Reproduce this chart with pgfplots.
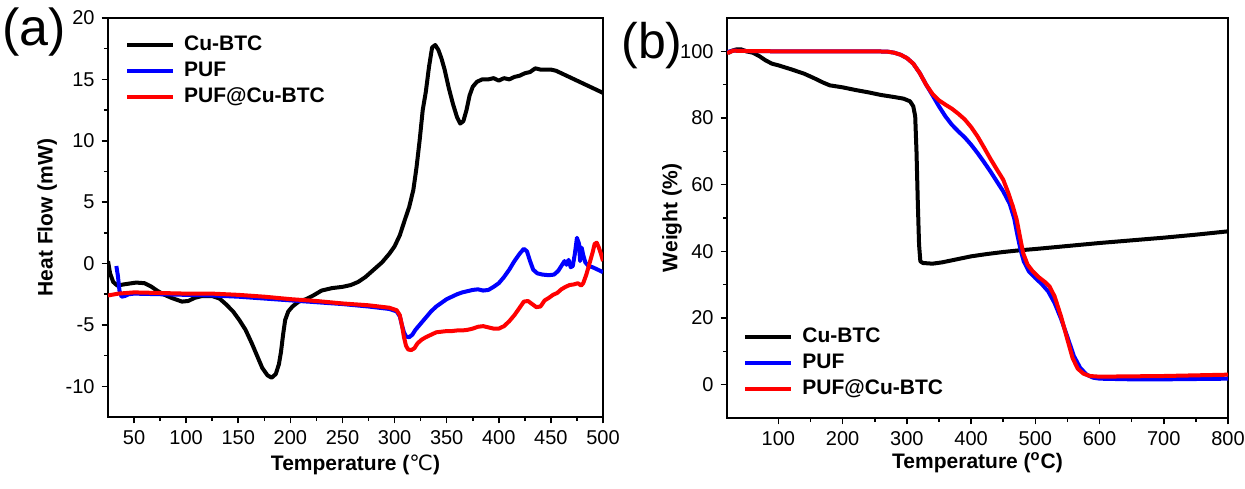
\documentclass[border=0pt]{standalone}
\usepackage{pgfplots}
\pgfplotsset{compat=1.18}
\usepackage{fontspec}
\setmainfont{Liberation Sans}
\newfontfamily\dejavu{DejaVu Sans}
\begin{document}
\begin{tikzpicture}
\useasboundingbox (0pt,0pt) rectangle (622.5pt,244pt);
\pgfplotsset{
  myax/.style={
    scale only axis,
    axis line style={line width=0.8pt},
    tick align=outside, tick pos=left,
    major tick length=3.2pt, minor tick length=2pt,
    every tick/.style={black, line width=0.8pt},
    /pgf/number format/assume math mode=true,
    tick label style={font=\fontsize{10}{12}\selectfont},
    label style={font=\fontsize{10.5}{12}\selectfont\bfseries},
    legend style={draw=none, fill=none, font=\fontsize{10.5}{12}\selectfont\bfseries,
      inner sep=0pt, row sep=3.5pt,
      nodes={inner sep=0pt, text height=7.5pt, text depth=2pt},
      /tikz/every odd column/.append style={column sep=4.5pt}},
    legend cell align=left,
    legend image code/.code={\draw[##1] (0pt,0pt) -- (23pt,0pt);},
    every axis plot/.append style={line width=2pt, line join=round},
  }
}
\node at (17pt,228pt) {\fontsize{26}{28}\selectfont (a)};
\node at (326pt,221pt) {\fontsize{25}{27}\selectfont (b)};
\begin{axis}[myax, at={(54pt,35.5pt)}, anchor=south west,
  width=247.5pt, height=199.5pt,
  xmin=25, xmax=500, ymin=-12.5, ymax=20,
  xtick={50,100,...,500}, minor x tick num=1,
  ytick={-10,-5,...,20}, minor y tick num=1,
  xlabel={Temperature ({\dejavu\mdseries ℃})}, ylabel={Heat Flow (mW)},
  xlabel style={at={(axis description cs:0.5,-0.12)}, anchor=center},
  ylabel style={at={(axis description cs:-0.123,0.5)}, anchor=center},
  legend style={at={(axis description cs:0.034,0.957)}, anchor=north west}]
\addplot[black] coordinates {(25,0.2) (27,-0.8) (30,-1.5) (34,-1.8) (40,-1.7) (52,-1.55) (60,-1.6) (66,-1.85) (72,-2.2) (78,-2.5) (86,-2.8) (96,-3.1) (102,-3.05) (108,-2.8) (115,-2.65) (125,-2.65) (132,-2.85) (138,-3.3) (145,-3.9) (151,-4.6) (157,-5.4) (163,-6.5) (168,-7.5) (173,-8.5) (178,-9.1) (182,-9.3) (186,-9.0) (189,-8.2) (191,-7.2) (193,-5.8) (195,-4.6) (198,-3.9) (202,-3.5) (208,-3.1) (215,-2.9) (222,-2.6) (230,-2.2) (240,-2.0) (250,-1.9) (258,-1.75) (265,-1.5) (272,-1.1) (280,-0.5) (288,0.1) (295,0.8) (300,1.4) (305,2.3) (310,3.6) (314,4.6) (318,6.0) (321,7.8) (324,10.0) (327,12.5) (330,14.0) (333,16.0) (336,17.6) (339,17.8) (342,17.4) (345,16.7) (348,15.8) (352,14.3) (356,13.0) (360,11.9) (363,11.4) (366,11.6) (369,12.5) (372,13.7) (375,14.4) (379,14.8) (384,15.0) (390,15.0) (395,15.1) (400,14.9) (405,15.1) (410,15.0) (415,15.2) (420,15.3) (425,15.5) (430,15.6) (435,15.9) (440,15.8) (445,15.8) (450,15.8) (455,15.7) (460,15.5) (465,15.3) (470,15.1) (475,14.9) (480,14.7) (485,14.5) (490,14.3) (495,14.1) (500,13.9)};
\addlegendentry{Cu-BTC}
\addplot[blue] coordinates {(33,-0.2) (34.5,-1.0) (36,-2.2) (38,-2.7) (41,-2.65) (45,-2.5) (50,-2.45) (75,-2.5) (100,-2.55) (125,-2.6) (150,-2.7) (175,-2.85) (200,-3.0) (225,-3.15) (250,-3.3) (275,-3.5) (295,-3.7) (302,-3.9) (305,-4.3) (307,-5.0) (309,-5.6) (311,-5.95) (314,-6.0) (317,-5.8) (320,-5.4) (325,-4.9) (330,-4.4) (335,-3.9) (340,-3.5) (345,-3.2) (350,-2.9) (355,-2.7) (360,-2.5) (365,-2.35) (370,-2.25) (375,-2.15) (380,-2.1) (385,-2.2) (390,-2.15) (395,-1.9) (400,-1.6) (405,-1.1) (410,-0.5) (415,0.2) (420,0.8) (424,1.2) (427,1.0) (430,0.2) (433,-0.5) (437,-0.8) (442,-0.9) (448,-0.95) (453,-0.9) (457,-0.6) (460,-0.2) (463,0.2) (465,-0.1) (467,0.3) (469,-0.3) (471,-0.2) (473,0.8) (475,2.1) (477,1.6) (478,0.2) (479.5,1.3) (481,0.7) (483,0.1) (486,-0.2) (490,-0.3) (495,-0.5) (500,-0.7)};
\addlegendentry{PUF}
\addplot[red] coordinates {(25,-2.6) (35,-2.45) (50,-2.35) (75,-2.4) (100,-2.45) (125,-2.45) (150,-2.55) (175,-2.7) (200,-2.9) (225,-3.05) (250,-3.25) (275,-3.4) (295,-3.6) (302,-3.8) (305,-4.2) (307,-5.0) (309,-6.0) (311,-6.7) (313,-7.0) (316,-7.05) (319,-6.9) (322,-6.5) (326,-6.2) (330,-6.0) (335,-5.8) (340,-5.6) (345,-5.55) (350,-5.5) (355,-5.5) (360,-5.45) (365,-5.45) (370,-5.4) (375,-5.3) (380,-5.15) (385,-5.1) (390,-5.2) (395,-5.3) (400,-5.3) (405,-5.1) (410,-4.7) (415,-4.2) (420,-3.6) (424,-3.1) (428,-3.05) (432,-3.3) (436,-3.55) (440,-3.5) (444,-3.0) (448,-2.8) (452,-2.55) (456,-2.4) (460,-2.1) (464,-1.9) (468,-1.75) (472,-1.7) (476,-1.6) (479,-1.8) (481,-1.6) (484,-0.9) (487,0.0) (490,0.9) (492,1.6) (494,1.7) (496,1.3) (498,0.8) (500,0.2)};
\addlegendentry{PUF@Cu-BTC}
\end{axis}
\begin{axis}[myax, at={(363.5pt,35pt)}, anchor=south west,
  width=250.5pt, height=200pt,
  xmin=20, xmax=800, ymin=-10, ymax=110,
  xtick={100,200,...,800}, minor x tick num=1,
  ytick={0,20,...,100}, minor y tick num=1,
  xlabel={Temperature (\textsuperscript{o}C)}, ylabel={Weight (\%)},
  xlabel style={at={(axis description cs:0.5,-0.1125)}, anchor=center},
  ylabel style={at={(axis description cs:-0.11,0.5)}, anchor=center},
  legend style={at={(axis description cs:0.032,0.047)}, anchor=south west}]
\addplot[black] coordinates {(22,99.5) (28,100.2) (35,100.6) (42,100.6) (50,100.0) (60,99.6) (70,98.6) (80,97.3) (90,96.3) (100,95.8) (120,94.6) (140,93.3) (155,92.0) (170,90.6) (180,89.8) (200,89.2) (220,88.4) (240,87.7) (260,86.9) (280,86.3) (295,85.8) (305,85.0) (310,83.5) (313,80.5) (315,70) (317,55) (319,42) (321,37) (325,36.5) (340,36.3) (355,36.7) (370,37.3) (385,37.9) (400,38.5) (425,39.2) (450,39.8) (475,40.3) (500,40.7) (550,41.6) (600,42.5) (650,43.3) (700,44.1) (750,45.0) (800,46.0)};
\addlegendentry{Cu-BTC}
\addplot[blue] coordinates {(20,99.8) (30,100.2) (50,100.1) (100,100) (150,100) (200,100) (250,100) (270,99.9) (280,99.6) (290,99.0) (300,98.0) (310,96.3) (320,93.5) (330,90.0) (340,86.8) (350,83.5) (360,80.5) (370,78.0) (380,76.0) (390,74.2) (400,72.0) (410,69.5) (420,66.8) (430,64.0) (440,61.0) (450,58.0) (460,54.3) (467,50.0) (472,45.0) (477,40.5) (482,37.0) (490,34.0) (500,32.0) (510,30.2) (520,28.0) (530,24.5) (540,19.8) (550,14.3) (560,8.6) (570,5.0) (580,3.0) (590,2.1) (600,1.8) (650,1.6) (700,1.6) (750,1.7) (800,1.8)};
\addlegendentry{PUF}
\addplot[red] coordinates {(20,99.5) (30,100.2) (50,100.1) (100,100) (150,100) (200,100) (250,100) (270,99.9) (280,99.6) (290,99.0) (300,98.0) (310,96.3) (320,93.5) (330,90.0) (340,87.2) (350,85.3) (360,84.0) (370,82.8) (380,81.3) (390,79.6) (400,77.3) (410,74.5) (420,71.2) (430,67.8) (440,64.6) (450,61.5) (458,57.5) (465,53.5) (471,49.5) (476,44.5) (481,39.5) (488,36.0) (496,34.0) (505,32.3) (515,30.8) (522,29.5) (530,26.5) (540,20.5) (550,13.5) (558,8.0) (566,4.8) (575,3.3) (585,2.6) (600,2.4) (650,2.5) (700,2.6) (750,2.8) (800,3.0)};
\addlegendentry{PUF@Cu-BTC}
\end{axis}
\end{tikzpicture}
\end{document}
